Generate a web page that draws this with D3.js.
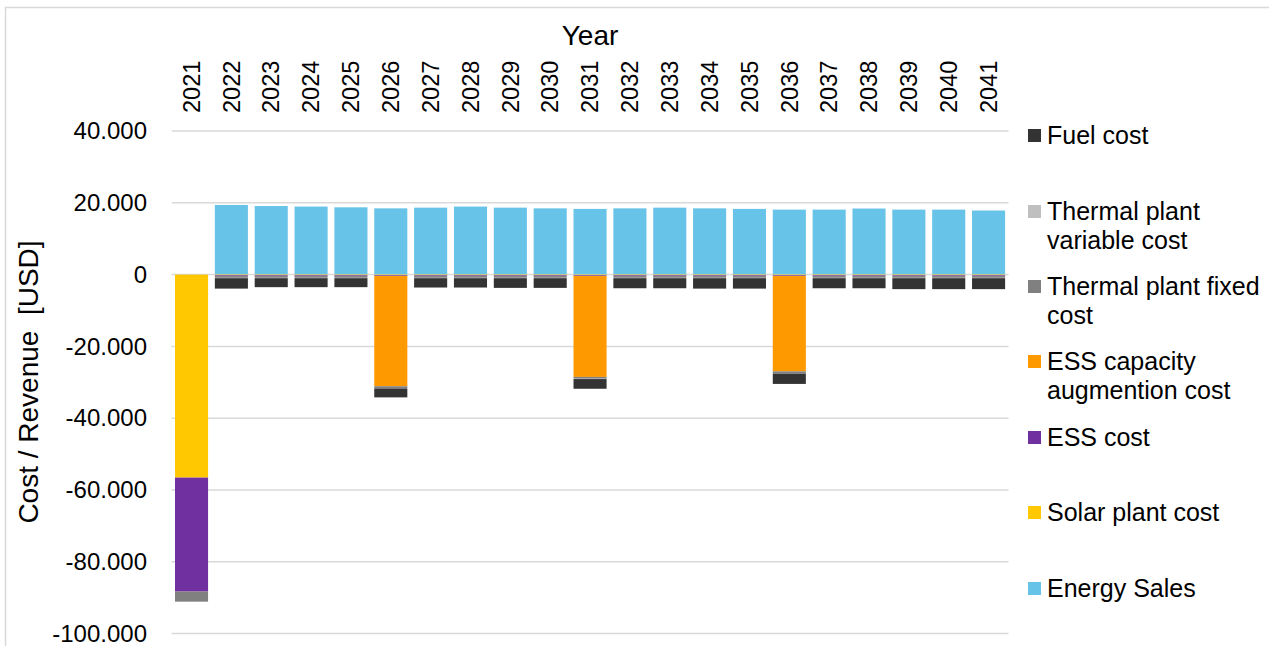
<!DOCTYPE html>
<html>
<head>
<meta charset="utf-8">
<script src="https://cdn.jsdelivr.net/npm/d3@7"></script>
<style>
  html, body { margin: 0; padding: 0; background: #fff; }
  svg { display: block; font-family: "Liberation Sans", Arial, sans-serif; }
</style>
</head>
<body>
<svg id="chart" width="1269" height="646"></svg>
<script>
const years = ["2021","2022","2023","2024","2025","2026","2027","2028","2029","2030","2031","2032","2033","2034","2035","2036","2037","2038","2039","2040","2041"];
const energySales   = [0, 19400, 19100, 18950, 18750, 18450, 18650, 18950, 18650, 18450, 18300, 18450, 18650, 18450, 18300, 18100, 18100, 18400, 18100, 18100, 17850];
const solarCost     = [-56550, -200, -200, -200, -200, -200, -200, -200, -200, -200, -200, -200, -200, -200, -200, -200, -200, -200, -200, -200, -200];
const essCost       = [-31750, -200, -200, -200, -200, -200, -200, -200, -200, -200, -200, -200, -200, -200, -200, -200, -200, -200, -200, -200, -200];
const essAugCost    = [0, 0, 0, 0, 0, -30700, 0, 0, 0, 0, -28100, 0, 0, 0, 0, -26550, 0, 0, 0, 0, 0];
const thermalFixed  = [-2800, -500, -500, -500, -500, -500, -500, -500, -500, -500, -500, -500, -500, -500, -500, -500, -500, -500, -500, -500, -500];
const thermalVar    = [0, -100, -100, -100, -100, -100, -100, -100, -100, -100, -100, -100, -100, -100, -100, -100, -100, -100, -100, -100, -100];
const fuelCost      = [0, -2900, -2500, -2500, -2500, -2500, -2600, -2600, -2700, -2700, -2700, -2800, -2800, -2900, -2900, -2900, -2800, -2800, -3050, -3050, -3050];
const yTicks = [40000, 20000, 0, -20000, -40000, -60000, -80000, -100000];

const seriesNames = ["Energy Sales","Solar plant cost","ESS cost","ESS capacity augmention cost","Thermal plant fixed cost","Thermal plant variable cost","Fuel cost"];
const seriesValues = [energySales, solarCost, essCost, essAugCost, thermalFixed, thermalVar, fuelCost];
const seriesColors = ["#68C3E8","#FFC800","#7030A0","#FF9900","#808080","#BFBFBF","#333333"];
const legendLines = [
  ["Fuel cost"],
  ["Thermal plant","variable cost"],
  ["Thermal plant fixed","cost"],
  ["ESS capacity","augmention cost"],
  ["ESS cost"],
  ["Solar plant cost"],
  ["Energy Sales"]
];
const legendColors = ["#333333","#BFBFBF","#808080","#FF9900","#7030A0","#FFC800","#68C3E8"];

const svg = d3.select("#chart");
const plotLeft = 171.6, plotRight = 1008.5, plotTop = 131, plotBottom = 633.6;

// outer border
svg.append("rect").attr("x", 5.5).attr("y", 7.5).attr("width", 1290).attr("height", 700)
  .attr("fill", "none").attr("stroke", "#d9d9d9").attr("stroke-width", 1.5);

const x = d3.scaleBand().domain(years).range([plotLeft, plotRight]).paddingInner(0.17).paddingOuter(0.085);
const y = d3.scaleLinear().domain([-100000, 40000]).range([plotBottom, plotTop]);

// gridlines
svg.append("g").selectAll("line").data(yTicks).join("line")
  .attr("x1", plotLeft).attr("x2", plotRight)
  .attr("y1", d => y(d)).attr("y2", d => y(d))
  .attr("stroke", "#d9d9d9").attr("stroke-width", 1.5);

// y axis labels
const yAxis = d3.axisLeft(y).tickValues(yTicks).tickSize(0).tickPadding(0)
  .tickFormat(d => d === 0 ? "0" : d3.format(",")(d).replace(/,/g, ".").replace("−", "-"));
const gy = svg.append("g").attr("transform", `translate(147,0)`).call(yAxis);
gy.select(".domain").remove();
gy.selectAll("text").attr("font-size", 24).attr("fill", "#000").attr("font-family", "Liberation Sans, Arial, sans-serif");

// stacked data
const table = years.map((yr, i) => {
  const row = { year: yr };
  seriesNames.forEach((s, k) => row[s] = seriesValues[k][i]);
  return row;
});
const stack = d3.stack().keys(seriesNames).offset(d3.stackOffsetDiverging);
const stacked = stack(table);

svg.append("g").selectAll("g").data(stacked).join("g")
  .attr("fill", (d, i) => seriesColors[i])
  .selectAll("rect").data(d => d).join("rect")
  .attr("x", d => x(d.data.year))
  .attr("width", x.bandwidth())
  .attr("y", d => y(Math.max(d[0], d[1])))
  .attr("height", d => Math.abs(y(d[0]) - y(d[1])));

// top axis labels (years)
const xAxis = d3.axisTop(x).tickSize(0).tickPadding(0);
const gx = svg.append("g").attr("transform", `translate(0,113)`).call(xAxis);
gx.select(".domain").remove();
gx.selectAll("text")
  .attr("transform", "rotate(-90)")
  .attr("text-anchor", "start")
  .attr("x", 0).attr("y", 0).attr("dy", "0.35em")
  .attr("font-size", 23.5).attr("fill", "#000").attr("font-family", "Liberation Sans, Arial, sans-serif");

// axis titles
svg.append("text").attr("x", 590).attr("y", 45).attr("text-anchor", "middle")
  .attr("font-size", 28).attr("fill", "#000").text("Year");
svg.append("text").attr("transform", "translate(38,382) rotate(-90)")
  .attr("text-anchor", "middle").attr("font-size", 28).attr("fill", "#000")
  .attr("xml:space", "preserve").style("white-space", "pre")
  .text("Cost / Revenue  [USD]");

// legend
const legendY = [135, 211, 286, 361, 437, 512, 588];
const lg = svg.append("g");
legendLines.forEach((lines, i) => {
  lg.append("rect").attr("x", 1028).attr("y", legendY[i] - 6).attr("width", 13).attr("height", 13)
    .attr("fill", legendColors[i]);
  lines.forEach((t, j) => {
    lg.append("text").attr("x", 1047).attr("y", legendY[i] + j * 29).attr("dy", "0.35em")
      .attr("font-size", 25).attr("fill", "#000").text(t);
  });
});
</script>
</body>
</html>
